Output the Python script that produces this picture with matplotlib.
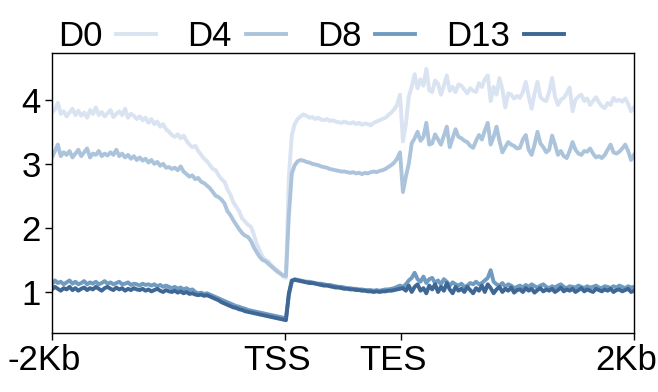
import numpy as np
import matplotlib
matplotlib.use("Agg")
import matplotlib.pyplot as plt
import matplotlib.transforms as mtransforms

plt.rcParams['font.family'] = ['Liberation Sans', 'DejaVu Sans']

# Perfil medio de señal alrededor del gen (-2Kb, TSS, TES, 2Kb), 200 bins
labels = ['D0', 'D4', 'D8', 'D13']
colors = ['#d9e3f1', '#abc4dc', '#6f9bc1', '#3e6796']
tick_pos = [0, 400, 600, 1000]
tick_labels = ['-2Kb', 'TSS', 'TES', '2Kb']

d0 = [3.80, 3.85, 3.95, 3.78, 3.82, 3.74, 3.80, 3.86, 3.76, 3.83,
      3.75, 3.80, 3.72, 3.84, 3.78, 3.88, 3.76, 3.81, 3.74, 3.79,
      3.84, 3.73, 3.78, 3.82, 3.76, 3.86, 3.72, 3.78, 3.75, 3.70,
      3.74, 3.68, 3.72, 3.64, 3.70, 3.62, 3.66, 3.58, 3.62, 3.54,
      3.50, 3.45, 3.42, 3.46, 3.40, 3.44, 3.36, 3.30, 3.26, 3.28,
      3.20, 3.14, 3.08, 3.04, 2.98, 2.92, 2.90, 2.82, 2.76, 2.72,
      2.60, 2.52, 2.40, 2.33, 2.26, 2.15, 2.10, 2.05, 2.02, 1.90,
      1.75, 1.65, 1.55, 1.50, 1.48, 1.42, 1.38, 1.34, 1.30, 1.24,
      1.22, 2.80, 3.45, 3.62, 3.70, 3.74, 3.77, 3.75, 3.72, 3.73,
      3.70, 3.72, 3.69, 3.68, 3.70, 3.67, 3.68, 3.66, 3.65, 3.64,
      3.66, 3.64, 3.63, 3.65, 3.62, 3.64, 3.61, 3.63, 3.62, 3.60,
      3.64, 3.66, 3.68, 3.70, 3.72, 3.76, 3.80, 3.85, 3.92, 4.08,
      3.35, 3.62, 4.05, 4.20, 4.40, 4.18, 4.32, 4.22, 4.48, 4.15,
      4.12, 4.30, 4.25, 4.08, 4.22, 4.38, 4.14, 4.20, 4.12, 4.24,
      4.22, 4.16, 4.10, 4.18, 4.14, 4.12, 4.26, 4.20, 4.32, 4.38,
      3.98, 4.20, 4.08, 4.34, 4.16, 3.88, 4.10, 4.08, 4.02, 4.06,
      4.03, 4.12, 4.28, 4.05, 3.86, 4.10, 4.28, 4.04, 4.00, 3.98,
      4.12, 4.34, 4.05, 3.92, 4.00, 4.03, 4.10, 4.19, 3.82, 4.00,
      4.05, 4.08, 3.98, 4.02, 3.92, 3.98, 4.04, 3.96, 3.90, 3.87,
      3.95, 3.92, 4.03, 3.98, 4.00, 3.97, 4.02, 3.94, 3.82, 3.88]

d4 = [3.10, 3.20, 3.30, 3.12, 3.18, 3.14, 3.20, 3.10, 3.16, 3.22,
      3.12, 3.18, 3.24, 3.10, 3.16, 3.14, 3.20, 3.12, 3.16, 3.13,
      3.18, 3.14, 3.22, 3.12, 3.16, 3.10, 3.14, 3.08, 3.12, 3.06,
      3.10, 3.05, 3.08, 3.02, 3.06, 3.00, 3.03, 2.97, 3.00, 2.94,
      2.95, 2.92, 2.94, 2.90, 2.96, 2.88, 2.84, 2.80, 2.82, 2.76,
      2.78, 2.72, 2.70, 2.66, 2.62, 2.56, 2.50, 2.48, 2.44, 2.38,
      2.26, 2.20, 2.12, 2.05, 1.98, 1.92, 1.88, 1.86, 1.80, 1.70,
      1.62, 1.55, 1.50, 1.48, 1.44, 1.40, 1.36, 1.32, 1.29, 1.26,
      1.25, 2.20, 2.85, 2.98, 3.04, 3.06, 3.05, 3.03, 3.02, 3.00,
      2.99, 2.98, 2.96, 2.95, 2.94, 2.92, 2.91, 2.90, 2.89, 2.88,
      2.88, 2.87, 2.86, 2.87, 2.85, 2.86, 2.84, 2.86, 2.85, 2.87,
      2.88, 2.87, 2.89, 2.90, 2.92, 2.95, 2.98, 3.02, 3.08, 3.18,
      2.56, 2.80, 3.00, 3.32, 3.40, 3.50, 3.36, 3.42, 3.64, 3.30,
      3.32, 3.46, 3.38, 3.30, 3.44, 3.58, 3.26, 3.40, 3.54, 3.42,
      3.40, 3.36, 3.34, 3.28, 3.25, 3.36, 3.45, 3.38, 3.52, 3.64,
      3.30, 3.42, 3.58, 3.36, 3.18, 3.26, 3.34, 3.30, 3.28, 3.24,
      3.25, 3.38, 3.45, 3.22, 3.14, 3.30, 3.50, 3.32, 3.26, 3.18,
      3.22, 3.44, 3.30, 3.14, 3.20, 3.12, 3.09, 3.20, 3.34, 3.22,
      3.16, 3.14, 3.20, 3.19, 3.24, 3.16, 3.10, 3.12, 3.09, 3.14,
      3.22, 3.30, 3.18, 3.16, 3.19, 3.24, 3.30, 3.20, 3.06, 3.14]

d8 = [1.12, 1.18, 1.14, 1.16, 1.12, 1.15, 1.18, 1.13, 1.16, 1.12,
      1.14, 1.17, 1.12, 1.15, 1.13, 1.16, 1.12, 1.14, 1.17, 1.13,
      1.15, 1.12, 1.14, 1.16, 1.12, 1.13, 1.15, 1.11, 1.13, 1.12,
      1.10, 1.13, 1.11, 1.12, 1.10, 1.12, 1.09, 1.11, 1.08, 1.10,
      1.08, 1.06, 1.08, 1.05, 1.07, 1.04, 1.06, 1.03, 1.04, 1.00,
      0.98, 0.99, 0.97, 0.98, 0.96, 0.94, 0.92, 0.90, 0.88, 0.86,
      0.84, 0.82, 0.80, 0.78, 0.77, 0.75, 0.74, 0.72, 0.71, 0.70,
      0.69, 0.68, 0.67, 0.66, 0.65, 0.64, 0.63, 0.62, 0.61, 0.60,
      0.59, 0.95, 1.16, 1.20, 1.19, 1.18, 1.17, 1.16, 1.16, 1.15,
      1.14, 1.13, 1.13, 1.12, 1.11, 1.11, 1.10, 1.09, 1.08, 1.08,
      1.07, 1.06, 1.06, 1.05, 1.05, 1.04, 1.04, 1.03, 1.03, 1.03,
      1.02, 1.03, 1.02, 1.03, 1.04, 1.04, 1.05, 1.06, 1.08, 1.10,
      1.08, 1.12, 1.18, 1.22, 1.30, 1.20, 1.16, 1.24, 1.14, 1.20,
      1.22, 1.14, 1.18, 1.12, 1.20, 1.16, 1.10, 1.15, 1.12, 1.10,
      1.13, 1.08, 1.10, 1.14, 1.12, 1.16, 1.12, 1.14, 1.18, 1.22,
      1.34, 1.16, 1.12, 1.10, 1.14, 1.08, 1.12, 1.10, 1.06, 1.08,
      1.10, 1.07, 1.11, 1.08, 1.12, 1.09, 1.07, 1.10, 1.12, 1.08,
      1.06, 1.09, 1.07, 1.10, 1.12, 1.08, 1.06, 1.09, 1.08, 1.07,
      1.10, 1.08, 1.06, 1.09, 1.07, 1.08, 1.10, 1.07, 1.06, 1.09,
      1.08, 1.06, 1.09, 1.07, 1.10, 1.08, 1.06, 1.09, 1.07, 1.08]

d13 = [1.04, 1.08, 1.05, 1.02, 1.06, 1.04, 1.08, 1.03, 1.06, 1.02,
       1.05, 1.07, 1.03, 1.06, 1.04, 1.08, 1.05, 1.02, 1.06, 1.08,
       1.05, 1.03, 1.07, 1.04, 1.06, 1.02, 1.05, 1.03, 1.06, 1.04,
       1.03, 1.05, 1.02, 1.04, 1.01, 1.03, 1.05, 1.02, 1.00, 1.03,
       1.01, 1.00, 1.02, 0.99, 1.01, 0.98, 1.00, 0.97, 0.98, 0.96,
       0.95, 0.96, 0.94, 0.95, 0.93, 0.91, 0.89, 0.87, 0.84, 0.82,
       0.80, 0.78, 0.76, 0.75, 0.73, 0.72, 0.70, 0.69, 0.68, 0.67,
       0.66, 0.65, 0.64, 0.63, 0.62, 0.61, 0.60, 0.59, 0.58, 0.57,
       0.56, 0.98, 1.18, 1.19, 1.18, 1.17, 1.16, 1.15, 1.14, 1.14,
       1.13, 1.12, 1.11, 1.10, 1.10, 1.09, 1.08, 1.07, 1.07, 1.06,
       1.05, 1.05, 1.04, 1.04, 1.03, 1.03, 1.02, 1.02, 1.01, 1.01,
       1.00, 1.01, 1.00, 1.01, 1.01, 1.02, 1.02, 1.03, 1.04, 1.05,
       1.06, 1.02, 1.10, 1.00, 1.08, 1.12, 1.02, 1.06, 0.98, 1.10,
       1.04, 1.12, 1.00, 1.08, 1.02, 1.14, 1.04, 0.98, 1.08, 1.02,
       1.05, 1.00, 1.08, 1.03, 0.98, 1.06, 1.02, 1.10, 1.00, 1.12,
       1.06, 0.98, 1.04, 1.08, 1.00, 1.05, 1.02, 1.07, 0.99, 1.03,
       1.04, 1.00, 1.06, 1.02, 1.05, 0.99, 1.03, 1.06, 1.01, 1.04,
       1.02, 1.05, 1.00, 1.03, 1.07, 1.01, 1.04, 1.02, 1.05, 1.00,
       1.03, 1.06, 1.01, 1.04, 1.02, 1.00, 1.05, 1.03, 1.01, 1.04,
       1.02, 1.05, 1.00, 1.03, 1.04, 1.01, 1.03, 1.05, 1.00, 1.02]

series = [d0, d4, d8, d13]
bins = np.linspace(0, 1000, len(d0))

fig = plt.figure(figsize=(6.58, 3.92), dpi=100)
ax = fig.add_axes([0.079, 0.1505, 0.8845, 0.7143])

for vals, lab, col in zip(series, labels, colors):
    ax.plot(bins, vals, color=col, lw=2.8, label=lab)

ax.set_xlim(0, 1000)
ax.set_ylim(0.36, 4.73)
ax.set_xticks(tick_pos)
ax.set_xticklabels(tick_labels)
ax.set_yticks([1, 2, 3, 4])
ax.tick_params(axis='both', labelsize=25, length=5, width=1, pad=3)

# las etiquetas del eje x van un poco corridas a la izquierda, como en el original
shift = mtransforms.ScaledTranslation(-8 / 100, 0, fig.dpi_scale_trans)
for lbl in ax.get_xticklabels():
    lbl.set_transform(lbl.get_transform() + shift)

for s in ax.spines.values():
    s.set_linewidth(1.0)

ax.legend(loc='lower left', bbox_to_anchor=(0.088, 0.865), bbox_transform=fig.transFigure,
          ncol=4, markerfirst=False, frameon=False, fontsize=25,
          handlelength=1.15, handletextpad=0.4, columnspacing=0.9,
          borderpad=0, borderaxespad=0)

fig.savefig("out.png", dpi=100)
plt.close()
